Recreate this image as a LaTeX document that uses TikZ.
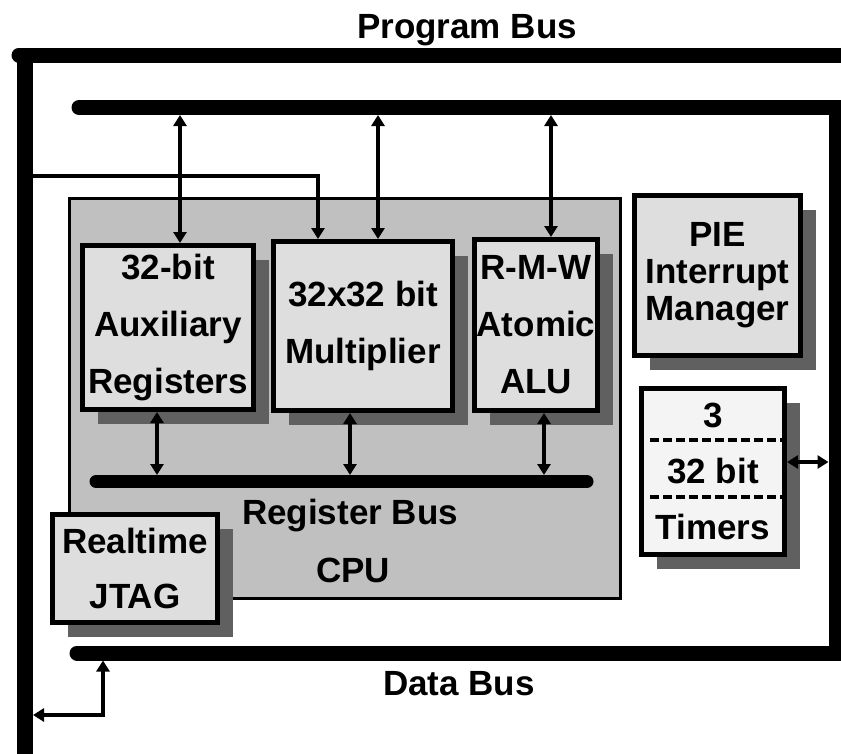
\documentclass[tikz,border=0pt]{standalone}
\usepackage{fontspec}
\setmainfont{Liberation Sans}
\usetikzlibrary{arrows.meta,shadows}
\definecolor{cpugray}{HTML}{C0C0C0}
\definecolor{boxgray}{HTML}{DEDEDE}
\definecolor{shadowgray}{HTML}{606060}
\definecolor{timerwhite}{HTML}{F4F4F4}
\tikzset{
  unit/.style={draw,line width=5pt,fill=boxgray,inner sep=0pt,align=center,
    font=\fontsize{35}{57}\bfseries\selectfont,
    drop shadow={shadow xshift=15pt,shadow yshift=-14pt,fill=shadowgray,opacity=1}},
  bus/.style={line width=15pt,line cap=round,line join=miter},
  regbus/.style={line width=13pt,line cap=round},
  biarrow/.style={line width=4pt,{Triangle[width=13pt,length=11pt]}-{Triangle[width=13pt,length=11pt]}},
  onearrow/.style={line width=4pt,-{Triangle[width=13pt,length=11pt]}},
  busname/.style={font=\fontsize{35}{42}\bfseries\selectfont,anchor=base,inner sep=0pt}
}
\begin{document}
\begin{tikzpicture}[x=1pt,y=-1pt]
\useasboundingbox (0,0) rectangle (841,753);
\draw[bus] (841,55) -- (19,55);
\draw[line width=16pt] (25,55) -- (25,760);
\draw[bus] (79,107.5) -- (836,107.5) -- (836,653) -- (77,653);
\node[busname] (pbname) at (467,38) {Program Bus};
\node[busname] (dbname) at (459,695) {Data Bus};
\node[draw,line width=3.5pt,fill=cpugray,minimum width=551pt,minimum height=400pt] (cpu) at (345,398.5) {};
\draw[regbus] (96,481.5) -- (587,481.5);
\node[busname] (rbname) at (350,524) {Register Bus};
\node[busname] (cpuname) at (353,582) {CPU};
\node[unit,minimum width=171pt,minimum height=164pt] (aux) at (168,327.5) {32-bit\\Auxiliary\\Registers};
\node[unit,minimum width=179pt,minimum height=169pt] (mult) at (363,326) {32x32 bit\\Multiplier};
\node[unit,minimum width=123pt,minimum height=171pt] (alu) at (536,325) {R-M-W\\Atomic\\ALU};
\node[unit,minimum width=166pt,minimum height=160pt,font=\fontsize{35}{37}\bfseries\selectfont] (pie) at (717.5,275.5) {PIE\\Interrupt\\Manager};
\node[unit,fill=timerwhite,minimum width=143pt,minimum height=166pt,font=\fontsize{35}{56}\bfseries\selectfont] (timers) at (713,471.5) {3\\32 bit\\Timers};
\node[unit,minimum width=165pt,minimum height=108pt,font=\fontsize{35}{55}\bfseries\selectfont] (jtag) at (135,568.5) {Realtime\\JTAG};
\coordinate (pA) at (180,115);
\coordinate (pM) at (378,115);
\coordinate (pL) at (551,115);
\coordinate (rA) at (157,475);
\coordinate (rM) at (350,475);
\coordinate (rL) at (544,475);
\coordinate (lbA) at (33,176);
\coordinate (lbB) at (33,715);
\coordinate (dbT) at (103,660.5);
\coordinate (rbT) at (828.5,462);
\coordinate (tA) at (650,440);
\coordinate (tB) at (650,497);
\draw[biarrow] (pA) -- (pA |- aux.north);
\draw[biarrow] (pM) -- (pM |- mult.north);
\draw[biarrow] (pL) -- (pL |- alu.north);
\draw[biarrow] (rA |- aux.south) -- (rA);
\draw[biarrow] (rM |- mult.south) -- (rM);
\draw[biarrow] (rL |- alu.south) -- (rL);
\draw[onearrow] (lbA) -| ([xshift=-45pt]mult.north);
\draw[biarrow] (lbB) -| (dbT);
\draw[biarrow] (timers.east |- rbT) -- (rbT);
\draw[line width=3.5pt,dash pattern=on 9pt off 4pt] (tA) -- (tA -| timers.east);
\draw[line width=3.5pt,dash pattern=on 9pt off 4pt] (tB) -- (tB -| timers.east);
\end{tikzpicture}
\end{document}
